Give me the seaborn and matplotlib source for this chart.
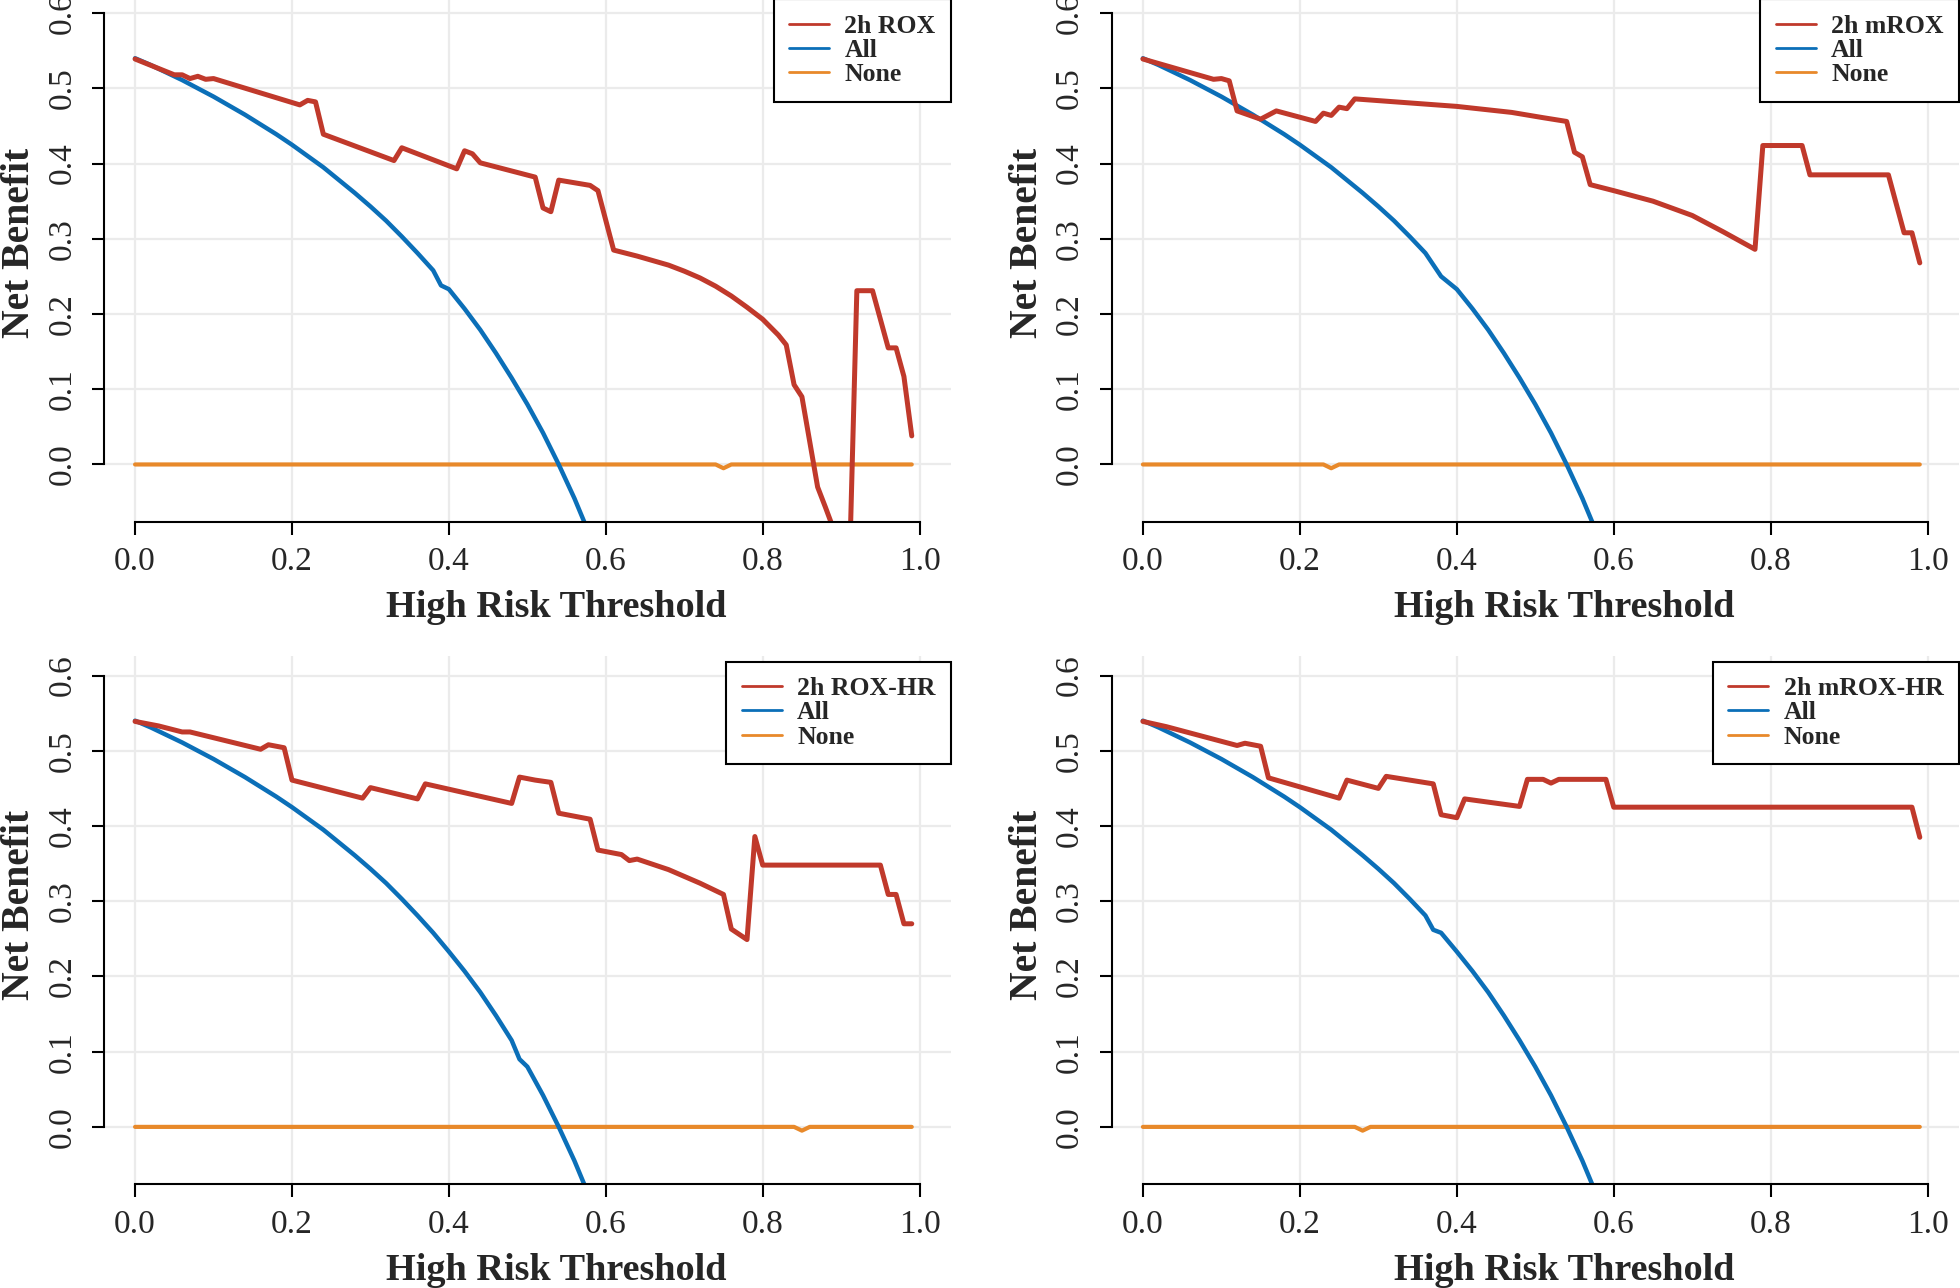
import pandas as pd
import matplotlib
matplotlib.use("Agg")
import matplotlib.pyplot as plt
from matplotlib.lines import Line2D
import seaborn as sns

# --- data ------------------------------------------------------------------
# "treat all" curve (shared by all panels)
all_thr = [0.00, 0.02, 0.04, 0.06, 0.08, 0.10, 0.12, 0.14, 0.16, 0.18,
           0.20, 0.22, 0.24, 0.26, 0.28, 0.30, 0.32, 0.34, 0.36, 0.38,
           0.40, 0.42, 0.44, 0.46, 0.48, 0.50, 0.52, 0.54, 0.56, 0.58]
all_nb = [0.540, 0.531, 0.521, 0.511, 0.500, 0.489, 0.477, 0.465, 0.452, 0.439,
          0.425, 0.410, 0.395, 0.378, 0.361, 0.343, 0.324, 0.303, 0.281, 0.258,
          0.233, 0.207, 0.179, 0.148, 0.115, 0.080, 0.042, 0.000, -0.045, -0.095]
# small notch seen in each panel's "All" curve
all_notch = [(0.39, 0.238), (0.38, 0.250), (0.49, 0.090), (0.37, 0.262)]

# model curves
labels = ["2h ROX", "2h mROX", "2h ROX-HR", "2h mROX-HR"]

thr_rox = [0.00, 0.05, 0.06, 0.07, 0.08, 0.09, 0.10, 0.21, 0.22, 0.23, 0.24,
           0.33, 0.34, 0.41, 0.42, 0.43, 0.44, 0.51, 0.52, 0.53, 0.54, 0.58,
           0.59, 0.61, 0.64, 0.66, 0.68, 0.70, 0.72, 0.74, 0.76, 0.78, 0.80,
           0.82, 0.83, 0.84, 0.85, 0.87, 0.88, 0.89, 0.90, 0.91, 0.92, 0.94,
           0.96, 0.97, 0.98, 0.99]
nb_rox = [0.539, 0.518, 0.518, 0.513, 0.516, 0.512, 0.513, 0.478, 0.484, 0.482, 0.439,
          0.404, 0.421, 0.393, 0.417, 0.413, 0.401, 0.382, 0.341, 0.336, 0.378, 0.371,
          0.364, 0.285, 0.277, 0.271, 0.265, 0.257, 0.248, 0.237, 0.224, 0.209, 0.193,
          0.172, 0.159, 0.106, 0.090, -0.030, -0.057, -0.085, -0.115, -0.160, 0.231, 0.231,
          0.155, 0.155, 0.117, 0.038]

thr_mrox = [0.00, 0.02, 0.04, 0.05, 0.09, 0.10, 0.11, 0.12, 0.15, 0.17, 0.22,
            0.23, 0.24, 0.25, 0.26, 0.27, 0.40, 0.47, 0.51, 0.54, 0.55, 0.56,
            0.57, 0.60, 0.65, 0.70, 0.74, 0.78, 0.79, 0.84, 0.85, 0.95, 0.97,
            0.98, 0.99]
nb_mrox = [0.539, 0.533, 0.527, 0.524, 0.512, 0.513, 0.510, 0.470, 0.459, 0.470, 0.456,
           0.467, 0.464, 0.475, 0.473, 0.486, 0.476, 0.468, 0.461, 0.456, 0.415, 0.409,
           0.372, 0.364, 0.350, 0.331, 0.309, 0.286, 0.424, 0.424, 0.385, 0.385, 0.308,
           0.308, 0.268]

thr_roxhr = [0.00, 0.03, 0.06, 0.07, 0.16, 0.17, 0.19, 0.20, 0.29, 0.30, 0.36,
             0.37, 0.48, 0.49, 0.51, 0.53, 0.54, 0.58, 0.59, 0.62, 0.63, 0.64,
             0.68, 0.72, 0.75, 0.76, 0.78, 0.79, 0.80, 0.95, 0.96, 0.97, 0.98, 0.99]
nb_roxhr = [0.539, 0.533, 0.525, 0.525, 0.502, 0.508, 0.504, 0.461, 0.437, 0.451, 0.436,
            0.456, 0.430, 0.465, 0.461, 0.458, 0.417, 0.409, 0.368, 0.362, 0.354, 0.356,
            0.342, 0.324, 0.309, 0.263, 0.249, 0.386, 0.348, 0.348, 0.309, 0.309, 0.270, 0.270]

thr_mroxhr = [0.00, 0.03, 0.12, 0.13, 0.15, 0.16, 0.25, 0.26, 0.30, 0.31, 0.37,
              0.38, 0.40, 0.41, 0.48, 0.49, 0.51, 0.52, 0.53, 0.59, 0.60, 0.98, 0.99]
nb_mroxhr = [0.539, 0.532, 0.507, 0.510, 0.506, 0.464, 0.437, 0.461, 0.450, 0.466, 0.456,
             0.415, 0.411, 0.436, 0.426, 0.462, 0.462, 0.457, 0.462, 0.462, 0.425, 0.425, 0.385]

# "treat none" curves (zero, with one tiny notch each)
none_thr = [[0.00, 0.74, 0.75, 0.76, 0.99],
            [0.00, 0.23, 0.24, 0.25, 0.99],
            [0.00, 0.84, 0.85, 0.86, 0.99],
            [0.00, 0.27, 0.28, 0.29, 0.99]]
none_nb = [0.0, 0.0, -0.005, 0.0, 0.0]

x_ticks = [0.0, 0.2, 0.4, 0.6, 0.8, 1.0]
y_ticks = [0.0, 0.1, 0.2, 0.3, 0.4, 0.5, 0.6]

model_thr = [thr_rox, thr_mrox, thr_roxhr, thr_mroxhr]
model_nb = [nb_rox, nb_mrox, nb_roxhr, nb_mroxhr]

# --- style -----------------------------------------------------------------
RED = "#C0392B"
BLUE = "#0B6FB8"
ORANGE = "#E8892A"
GRID = "#EBEBEB"

sns.set_theme(style="white")
plt.rcParams["font.family"] = ["Liberation Serif", "DejaVu Serif"]

fig = plt.figure(figsize=(19.6, 12.88), dpi=100)
positions = [
    [0.0529, 0.595, 0.4323, 0.410],
    [0.5671, 0.595, 0.4324, 0.410],
    [0.0529, 0.0807, 0.4323, 0.410],
    [0.5671, 0.0807, 0.4324, 0.410],
]

for i, pos in enumerate(positions):
    ax = fig.add_axes(pos)

    df_none = pd.DataFrame({"thr": none_thr[i], "nb": none_nb})
    df_all = pd.DataFrame({"thr": all_thr + [all_notch[i][0]],
                           "nb": all_nb + [all_notch[i][1]]})
    df_all = df_all.drop_duplicates("thr", keep="last").sort_values("thr")
    df_model = pd.DataFrame({"thr": model_thr[i], "nb": model_nb[i]})

    sns.lineplot(data=df_none, x="thr", y="nb", ax=ax, color=ORANGE, linewidth=3.0,
                 estimator=None, solid_capstyle="round", solid_joinstyle="round")
    sns.lineplot(data=df_all, x="thr", y="nb", ax=ax, color=BLUE, linewidth=3.2,
                 estimator=None, solid_capstyle="round", solid_joinstyle="round")
    sns.lineplot(data=df_model, x="thr", y="nb", ax=ax, color=RED, linewidth=3.6,
                 estimator=None, solid_capstyle="round", solid_joinstyle="round")

    ax.set_xlim(-0.04, 1.04)
    ax.set_ylim(-0.076, 0.626)
    ax.set_xticks(x_ticks)
    ax.set_xticklabels([f"{v:.1f}" for v in x_ticks])
    ax.set_yticks(y_ticks)
    ax.set_yticklabels([f"{v:.1f}" for v in y_ticks], rotation=90, va="center")

    ax.grid(True, color=GRID, linewidth=1.6)
    ax.set_axisbelow(True)

    for side in ["top", "right"]:
        ax.spines[side].set_visible(False)
    for side in ["left", "bottom"]:
        ax.spines[side].set_color("black")
        ax.spines[side].set_linewidth(1.5)
    ax.spines["left"].set_bounds(0, 0.6)
    ax.spines["bottom"].set_bounds(0, 1.0)

    ax.tick_params(axis="x", length=9, width=1.5, color="black", pad=9,
                   labelsize=24, bottom=True)
    ax.tick_params(axis="y", length=9, width=1.5, color="black", pad=10,
                   labelsize=24, left=True)

    ax.set_xlabel("High Risk Threshold", fontsize=27.5, fontweight="bold")
    ax.xaxis.label.set_va("center")
    ax.xaxis.set_label_coords(0.534, -0.163)
    ax.set_ylabel("Net Benefit", fontsize=28.5, fontweight="bold")
    ax.yaxis.label.set_va("center")
    ax.yaxis.set_label_coords(-0.099, 0.528)

    handles = [Line2D([], [], color=RED, lw=2),
               Line2D([], [], color=BLUE, lw=2),
               Line2D([], [], color=ORANGE, lw=2)]
    leg = ax.legend(handles, [labels[i], "All", "None"], loc="upper right",
                    bbox_to_anchor=(1.0, 0.989), borderaxespad=0,
                    prop={"family": "Liberation Serif", "weight": "bold", "size": 18.5},
                    frameon=True, fancybox=False, framealpha=1,
                    handlelength=1.55, handletextpad=0.6, labelspacing=0.05,
                    borderpad=0.6)
    leg.get_frame().set_edgecolor("black")
    leg.get_frame().set_linewidth(1.5)

fig.savefig("out.png", dpi=100)
